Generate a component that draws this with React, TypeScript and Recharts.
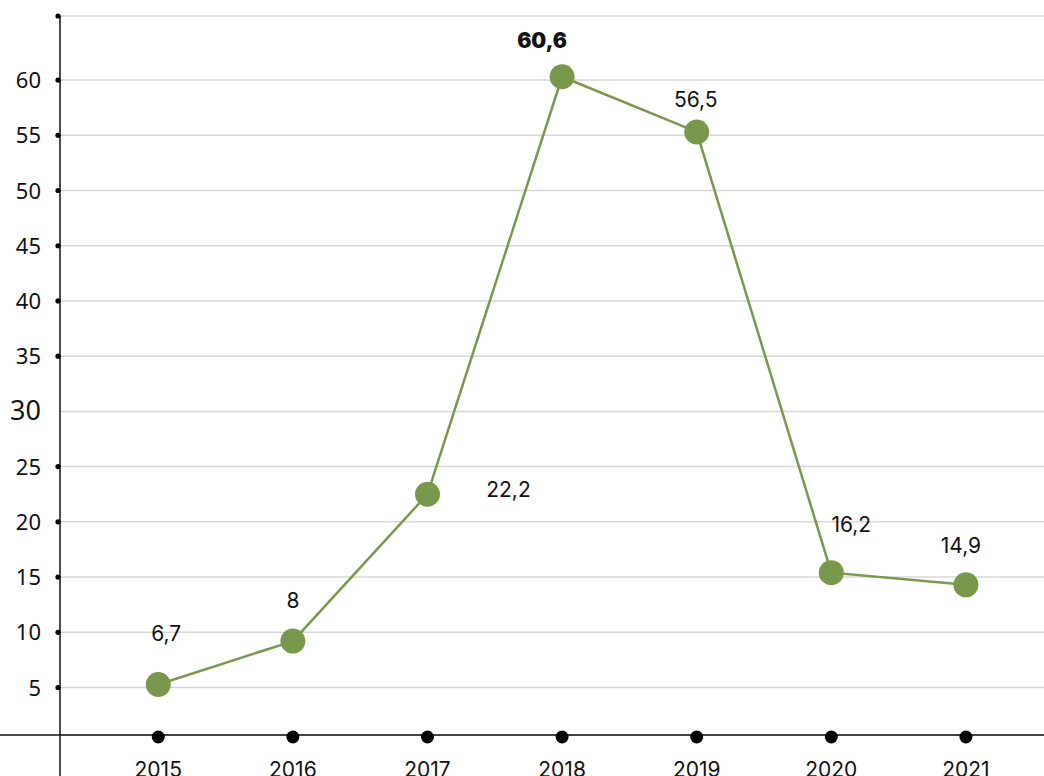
import {
  LineChart,
  Line,
  XAxis,
  YAxis,
  CartesianGrid,
  ReferenceLine,
  LabelList,
} from "recharts";

const YEARS = [2015, 2016, 2017, 2018, 2019, 2020, 2021];
// plotted positions
const VALUES = [5.27, 9.2, 22.5, 60.3, 55.3, 15.4, 14.3];
// printed labels (they do not quite match the dots in the original)
const LABELS = ["6,7", "8", "22,2", "60,6", "56,5", "16,2", "14,9"];
const Y_TICKS = [5, 10, 15, 20, 25, 30, 35, 40, 45, 50, 55, 60, 65.8];

const GREEN = "#78984b";
const LABEL_FONT = "Inter, 'Noto Sans', sans-serif";

// label placement around each dot: [dx, dy]
const LABEL_OFFSETS: [number, number][] = [
  [8, -52],
  [0, -41],
  [81, -5],
  [-20, -37],
  [-1, -33],
  [20, -49],
  [-5, -40],
];

const data = YEARS.map((year, i) => ({ year, value: VALUES[i], label: LABELS[i] }));

function YTick(props: any) {
  const { x, y, payload } = props;
  const v = payload.value;
  const top = v > 65;
  const big = v === 30;
  return (
    <g>
      {!big && <circle cx={x} cy={y} r={2.6} fill="#000" />}
      {!top && (
        <text
          x={x - 17}
          y={y}
          dy={big ? 9 : 8}
          textAnchor="end"
          fontFamily="'Noto Sans', sans-serif"
          fontSize={big ? 27 : 22}
          fill="#111"
        >
          {v}
        </text>
      )}
    </g>
  );
}

function XTick(props: any) {
  const { x, y, payload } = props;
  return (
    <g>
      <circle cx={x} cy={y} r={6.5} fill="#000" />
      <text
        x={x}
        y={y + 40}
        textAnchor="middle"
        fontFamily={LABEL_FONT}
        fontSize={21}
        fill="#111"
      >
        {payload.value}
      </text>
    </g>
  );
}

function PointLabel(props: any) {
  const { x, y, index, value } = props;
  const [dx, dy] = LABEL_OFFSETS[index] || [0, -40];
  const bold = index === 3;
  return (
    <text
      x={x + dx}
      y={y + dy + 8}
      textAnchor="middle"
      fontFamily={LABEL_FONT}
      fontSize={21}
      fontWeight={bold ? 900 : 400}
      fill="#111"
    >
      {value}
    </text>
  );
}

export default function App() {
  return (
    <div style={{ position: "absolute", left: 0, top: 0, width: 1044, height: 776, background: "#fff" }}>
      <LineChart
        width={1044}
        height={776}
        data={data}
        margin={{ top: 16, right: 0, bottom: 0, left: 0 }}
      >
        <CartesianGrid horizontal vertical={false} stroke="#d6d6d6" strokeWidth={1.5} />
        <XAxis
          type="number"
          dataKey="year"
          domain={[2014.27, 2021.58]}
          ticks={YEARS}
          allowDataOverflow
          axisLine={false}
          tickLine={false}
          tickSize={0}
          height={41}
          tick={<XTick />}
          interval={0}
        />
        <YAxis
          type="number"
          domain={[0.7, 65.8]}
          ticks={Y_TICKS}
          allowDataOverflow
          axisLine={false}
          tickLine={false}
          tickSize={0}
          width={60}
          tick={<YTick />}
          interval={0}
        />
        <ReferenceLine
          segment={[
            { x: 2013.8, y: 0.7 },
            { x: 2021.58, y: 0.7 },
          ]}
          stroke="#111"
          strokeWidth={1.5}
          ifOverflow="visible"
        />
        <ReferenceLine
          segment={[
            { x: 2014.27, y: -3.1 },
            { x: 2014.27, y: 65.8 },
          ]}
          stroke="#111"
          strokeWidth={1.5}
          ifOverflow="visible"
        />
        <Line
          type="linear"
          dataKey="value"
          stroke={GREEN}
          strokeWidth={2.5}
          dot={{ r: 12.5, fill: GREEN, stroke: "none" }}
          activeDot={false}
          isAnimationActive={false}
        >
          <LabelList dataKey="label" content={<PointLabel />} />
        </Line>
      </LineChart>
    </div>
  );
}
